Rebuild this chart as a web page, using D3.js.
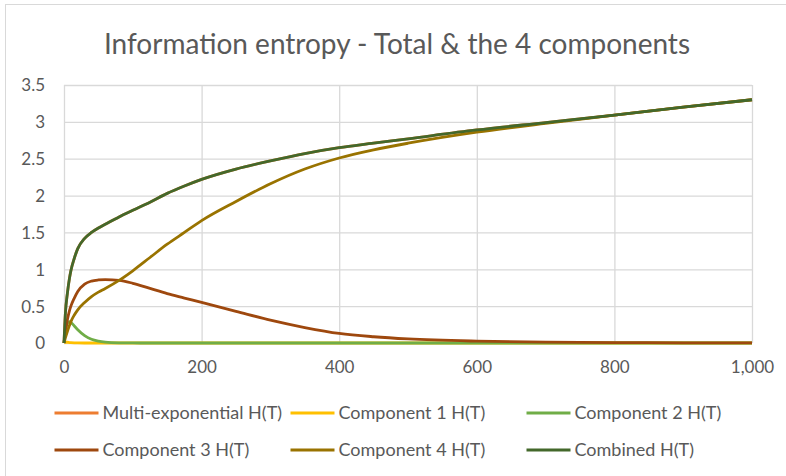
<!DOCTYPE html>
<html><head><meta charset="utf-8">
<script src="https://cdn.jsdelivr.net/npm/d3@7"></script>
<style>body{margin:0;background:#fff;} text{font-family:Lato,"Open Sans",sans-serif;}</style>
</head><body>
<svg id="c" width="786" height="476"></svg>
<script>
const T =        [0, 2, 5, 8, 10, 15, 20, 30, 40, 50, 60, 80, 100, 125, 150, 175, 200, 250, 300, 350, 400, 450, 500, 600, 700, 800, 900, 1000];
const multiExp = [0, 0.40, 0.68, 0.88, 0.98, 1.15, 1.28, 1.42, 1.50, 1.56, 1.61, 1.71, 1.80, 1.91, 2.03, 2.13, 2.22, 2.36, 2.47, 2.57, 2.65, 2.71, 2.77, 2.89, 2.99, 3.09, 3.20, 3.30];
const comp1 =    [0, 0.01, 0.01, 0.005, 0.004, 0.002, 0.001, 0, 0, 0, 0, 0, 0, 0, 0, 0, 0, 0, 0, 0, 0, 0, 0, 0, 0, 0, 0, 0];
const comp2 =    [0, 0.15, 0.27, 0.29, 0.28, 0.23, 0.18, 0.10, 0.05, 0.025, 0.012, 0.003, 0.001, 0, 0, 0, 0, 0, 0, 0, 0, 0, 0, 0, 0, 0, 0, 0];
const comp3 =    [0, 0.15, 0.32, 0.44, 0.50, 0.61, 0.70, 0.80, 0.84, 0.855, 0.86, 0.85, 0.81, 0.74, 0.67, 0.61, 0.55, 0.43, 0.31, 0.21, 0.13, 0.085, 0.055, 0.025, 0.012, 0.006, 0.003, 0.001];
const comp4 =    [0, 0.07, 0.16, 0.24, 0.29, 0.38, 0.45, 0.55, 0.63, 0.69, 0.74, 0.85, 0.98, 1.16, 1.34, 1.50, 1.66, 1.92, 2.16, 2.36, 2.51, 2.62, 2.71, 2.86, 2.98, 3.09, 3.20, 3.30];
const combined = [0, 0.40, 0.68, 0.88, 0.98, 1.15, 1.28, 1.42, 1.50, 1.56, 1.61, 1.71, 1.80, 1.91, 2.03, 2.13, 2.22, 2.36, 2.47, 2.57, 2.65, 2.71, 2.77, 2.89, 2.99, 3.09, 3.20, 3.30];
const seriesNames = ["Multi-exponential H(T)", "Component 1 H(T)", "Component 2 H(T)", "Component 3 H(T)", "Component 4 H(T)", "Combined H(T)"];
const seriesColors = ["#ED7D31", "#FFC000", "#70AD47", "#9E480E", "#997300", "#43682B"];
const yTicks = [0, 0.5, 1, 1.5, 2, 2.5, 3, 3.5];
const xTicks = [0, 200, 400, 600, 800, 1000];
const title = "Information entropy - Total & the 4 components";

const allSeries = [multiExp, comp1, comp2, comp3, comp4, combined];
const svg = d3.select("#c");
const m = {l: 64, r: 34, t: 85, b: 133};
const W = 786, H = 476;
const x = d3.scaleLinear().domain([0, 1000]).range([m.l, W - m.r]);
const y = d3.scaleLinear().domain([0, 3.5]).range([H - m.b, m.t]);

svg.append("rect").attr("x", 5.5).attr("y", 4.5).attr("width", 800).attr("height", 500)
  .attr("fill", "#fff").attr("stroke", "#d9d9d9");

svg.append("text").attr("x", 397).attr("y", 54).attr("text-anchor", "middle")
  .attr("font-size", 28).attr("fill", "#595959").text(title);

const gy = svg.append("g").attr("transform", `translate(${m.l},0)`)
  .call(d3.axisLeft(y).tickValues(yTicks).tickSize(-(W - m.l - m.r)).tickFormat(d3.format("")));
const gx = svg.append("g").attr("transform", `translate(0,${H - m.b})`)
  .call(d3.axisBottom(x).tickValues(xTicks).tickSize(-(H - m.t - m.b)).tickFormat(d3.format(",")));
[gy, gx].forEach(g => {
  g.select(".domain").remove();
  g.selectAll(".tick line").attr("stroke", "#d9d9d9").attr("stroke-width", 1.3);
  g.selectAll(".tick text").attr("fill", "#595959").attr("font-size", 17);
});
gy.selectAll(".tick text").attr("x", -19).attr("dy", "0.35em");
gx.selectAll(".tick text").attr("y", 24.5).attr("dy", "0.35em");

const line = d3.line().x((d, i) => x(T[i])).y(d => y(d)).curve(d3.curveMonotoneX);
allSeries.forEach((s, i) => {
  svg.append("path").datum(s).attr("d", line).attr("fill", "none")
    .attr("stroke", seriesColors[i]).attr("stroke-width", 2.8).attr("stroke-linejoin", "round");
});

const legX = [54.5, 290.5, 526.5], legY = [413, 450];
seriesNames.forEach((n, i) => {
  const lx = legX[i % 3], ly = legY[Math.floor(i / 3)];
  svg.append("line").attr("x1", lx).attr("x2", lx + 44).attr("y1", ly).attr("y2", ly)
    .attr("stroke", seriesColors[i]).attr("stroke-width", 2.8);
  svg.append("text").attr("x", lx + 48).attr("y", ly).attr("dy", "0.35em")
    .attr("font-size", 18).attr("fill", "#595959").text(n);
});
</script>
</body></html>
